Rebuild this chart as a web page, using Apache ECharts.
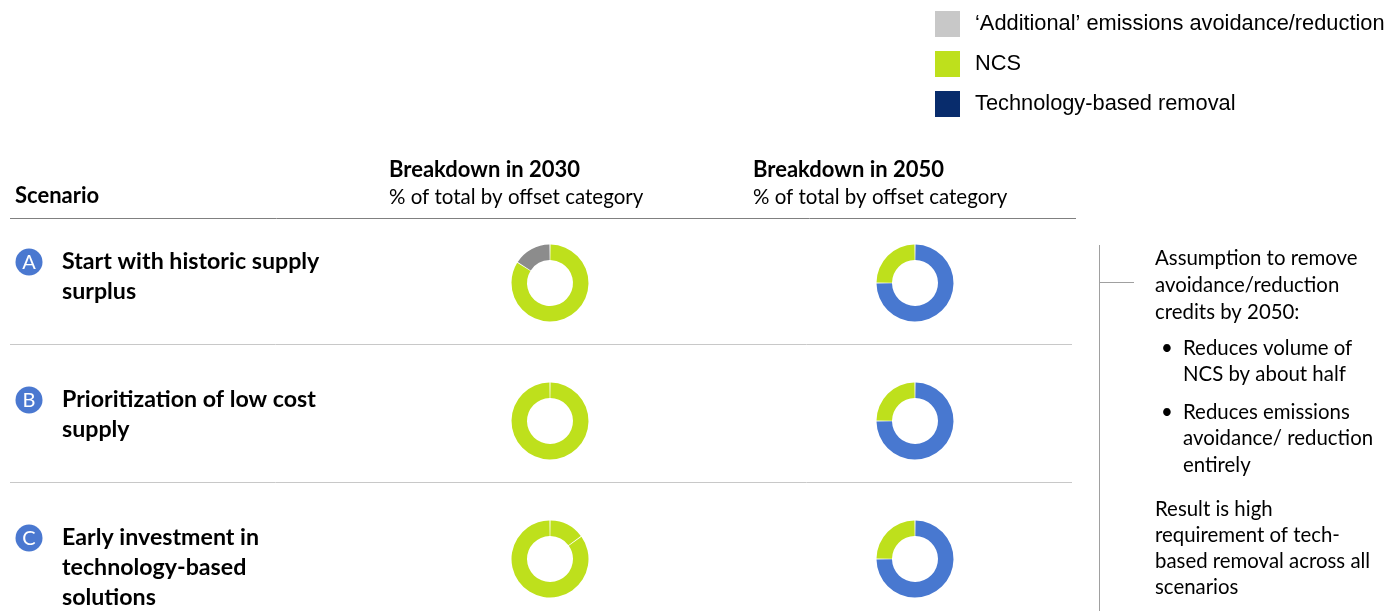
<!DOCTYPE html>
<html><head><meta charset="utf-8">
<script src="https://cdn.jsdelivr.net/npm/echarts@6/dist/echarts.min.js"></script>
<style>html,body{margin:0;padding:0;background:#fff}#c{width:1388px;height:611px}</style>
</head><body><div id="c"></div>
<script>
// ---- data ----
const legendNames = ['‘Additional’ emissions avoidance/reduction', 'NCS', 'Technology-based removal'];
const scenarioLetters = ['A', 'B', 'C'];
const scenarioTitles = [
  ['Start with historic supply', 'surplus'],
  ['Prioritization of low cost', 'supply'],
  ['Early investment in', 'technology-based', 'solutions']
];
const columnTitles = ['Breakdown in 2030', 'Breakdown in 2050'];
const columnSubtitle = '% of total by offset category';
// slices clockwise from 12 o'clock: [category, share %]
const slicesA2030 = [['NCS', 84], ['‘Additional’ emissions avoidance/reduction', 16]];
const slicesA2050 = [['Technology-based removal', 75], ['NCS', 25]];
const slicesB2030 = [['NCS', 100]];
const slicesB2050 = [['Technology-based removal', 75], ['NCS', 25]];
const slicesC2030 = [['NCS', 15], ['NCS', 85]];
const slicesC2050 = [['Technology-based removal', 75], ['NCS', 25]];
const noteLines = ['Assumption to remove', 'avoidance/reduction', 'credits by 2050:'];
const bullets = [['Reduces volume of', 'NCS by about half'], ['Reduces emissions', 'avoidance/ reduction', 'entirely']];
const resultLines = ['Result is high', 'requirement of tech-', 'based removal across all', 'scenarios'];

// ---- styles ----
const pieColors = {
  '‘Additional’ emissions avoidance/reduction': '#8C8C8C',
  'NCS': '#BEE01C',
  'Technology-based removal': '#4878D0'
};
const legendColors = ['#C8C8C8', '#BEE01C', '#082C6C'];
const FONT = 'Lato, "Open Sans", sans-serif';

const donuts = [
  [slicesA2030, slicesA2050],
  [slicesB2030, slicesB2050],
  [slicesC2030, slicesC2050]
];
const rowY = [283, 421, 559];
const colX = [550, 915];

const series = [];
donuts.forEach((row, r) => row.forEach((slices, c) => {
  series.push({
    type: 'pie', silent: true, animation: false,
    center: [colX[c], rowY[r]], radius: [23, 38.5],
    startAngle: 90, clockwise: true, padAngle: 1.6,
    label: { show: false }, labelLine: { show: false },
    data: slices.map(s => ({ name: s[0], value: s[1], itemStyle: { color: pieColors[s[0]] } }))
  });
}));

const g = [];
function txt(x, y, text, font, extra) {
  g.push(Object.assign({ type: 'text', x: x, y: y, silent: true,
    style: Object.assign({ text: text, font: font, fill: '#000', verticalAlign: 'middle', align: 'left' }, extra || {}) }));
}
function line(x1, y1, x2, y2, color) {
  g.push({ type: 'line', silent: true, shape: { x1, y1, x2, y2 }, style: { stroke: color, lineWidth: 1 } });
}
// headers
txt(15, 196, 'Scenario', 'bold 22px ' + FONT);
columnTitles.forEach((t, i) => {
  const x = [389, 753][i];
  txt(x, 170, t, 'bold 22px ' + FONT);
  txt(x, 197, columnSubtitle, '20.5px ' + FONT);
});
line(10, 218.5, 1076, 218.5, '#808080');
line(10, 344.5, 1072, 344.5, '#C8C8C8');
line(10, 482.5, 1072, 482.5, '#C8C8C8');
// scenarios
const badgeY = [262, 400, 538];
scenarioTitles.forEach((lines, i) => {
  g.push({ type: 'circle', silent: true, shape: { cx: 29, cy: badgeY[i], r: 13.5 }, style: { fill: '#4A78D0' } });
  txt(29, badgeY[i] + 1, scenarioLetters[i], '20px ' + FONT, { fill: '#fff', align: 'center' });
  lines.forEach((l, k) => txt(62, badgeY[i] + k * 30, l, 'bold 23.2px ' + FONT));
});
// right note
line(1099.5, 245, 1099.5, 611, '#A0A0A0');
line(1099, 282.5, 1134, 282.5, '#A0A0A0');
const NF = '20.4px ' + FONT;
noteLines.forEach((l, k) => txt(1155, 258 + k * 27, l, NF));
const bulletY = [348, 412];
bullets.forEach((b, i) => {
  txt(1161, bulletY[i], '•', NF);
  b.forEach((l, k) => txt(1183, bulletY[i] + k * 26.7, l, NF));
});
resultLines.forEach((l, k) => txt(1155, 509 + k * 26.3, l, NF));

const chart = echarts.init(document.getElementById('c'), null, { renderer: 'canvas' });
chart.setOption({
  backgroundColor: '#fff',
  animation: false,
  legend: {
    orient: 'vertical', left: 930, top: 6, icon: 'rect',
    itemWidth: 25, itemHeight: 26, itemGap: 14, selectedMode: false,
    textStyle: { fontSize: 21.8, fontFamily: '"Liberation Sans", Arial, sans-serif', color: '#000', padding: [0, 0, 0, 10] },
    data: legendNames.map((n, i) => ({ name: n, itemStyle: { color: legendColors[i] } }))
  },
  series: series,
  graphic: g
});
</script></body></html>
